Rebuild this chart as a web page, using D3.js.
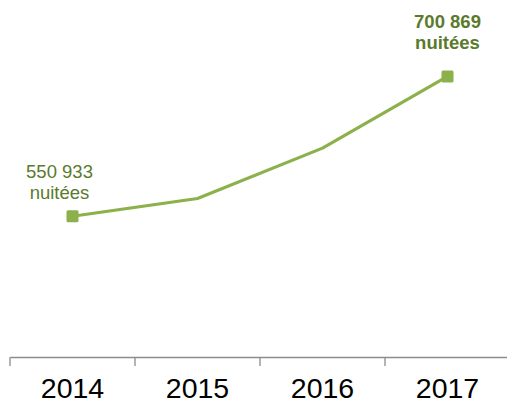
<!DOCTYPE html>
<html lang="fr">
<head>
  <meta charset="UTF-8">
  <title>Nuitées 2014-2017</title>
  <script src="https://d3js.org/d3.v7.min.js"></script>
  <style>
    body { margin: 0; background: #fff; }
    svg text { font-family: "Liberation Sans", Arial, sans-serif; }
  </style>
</head>
<body>
  <svg width="507" height="405"></svg>
  <script>
    const years = ["2014", "2015", "2016", "2017"];
    const nights = [550933, 570000, 624000, 700869];
    // labels shown only on first and last points
    const labelled = [0, 3];

    const width = 507, height = 405;
    const svg = d3.select("svg");

    const x = d3.scaleBand()
      .domain(years)
      .range([10, 510]);

    const y = d3.scaleLinear()
      .domain([400000, 800000])
      .range([357, -16]);

    const lineColor = "#8cb04a";
    const textColor = "#5a7a2c";

    // x axis
    const axis = svg.append("g")
      .attr("transform", "translate(0,357)")
      .call(d3.axisBottom(x).tickSize(0).tickPadding(32));
    axis.select(".domain").attr("stroke", "#8c8c8c").attr("stroke-width", 1.3);
    axis.selectAll("text")
      .attr("font-size", 28.5)
      .attr("fill", "#000")
      .attr("dy", "0.3em");

    // tick marks between categories
    svg.append("g")
      .selectAll("line")
      .data(years)
      .join("line")
      .attr("x1", d => x(d))
      .attr("x2", d => x(d))
      .attr("y1", 357)
      .attr("y2", 366)
      .attr("stroke", "#8c8c8c")
      .attr("stroke-width", 1.3);

    const cx = (d, i) => x(years[i]) + x.bandwidth() / 2;

    svg.append("path")
      .datum(nights)
      .attr("fill", "none")
      .attr("stroke", lineColor)
      .attr("stroke-width", 3.2)
      .attr("stroke-linejoin", "round")
      .attr("d", d3.line().x(cx).y(d => y(d)));

    svg.append("g")
      .selectAll("rect")
      .data(labelled)
      .join("rect")
      .attr("x", i => cx(null, i) - 6)
      .attr("y", i => y(nights[i]) - 6)
      .attr("width", 12)
      .attr("height", 12)
      .attr("rx", 1.5)
      .attr("fill", lineColor);

    const fmt = v => d3.format(",")(v).replace(/,/g, " ");

    // 2014 label (left of point, regular)
    const l0 = svg.append("text")
      .attr("text-anchor", "middle")
      .attr("font-size", 18.5)
      .attr("fill", textColor)
      .attr("x", cx(null, 0) - 13)
      .attr("y", y(nights[0]) - 38);
    l0.append("tspan").text(fmt(nights[0]));
    l0.append("tspan").attr("x", cx(null, 0) - 13).attr("dy", 20.5).text("nuitées");

    // 2017 label (above point, bold)
    const l3 = svg.append("text")
      .attr("text-anchor", "middle")
      .attr("font-size", 18.5)
      .attr("font-weight", "bold")
      .attr("fill", textColor)
      .attr("x", cx(null, 3))
      .attr("y", y(nights[3]) - 48);
    l3.append("tspan").text(fmt(nights[3]));
    l3.append("tspan").attr("x", cx(null, 3)).attr("dy", 21).text("nuitées");
  </script>
</body>
</html>
